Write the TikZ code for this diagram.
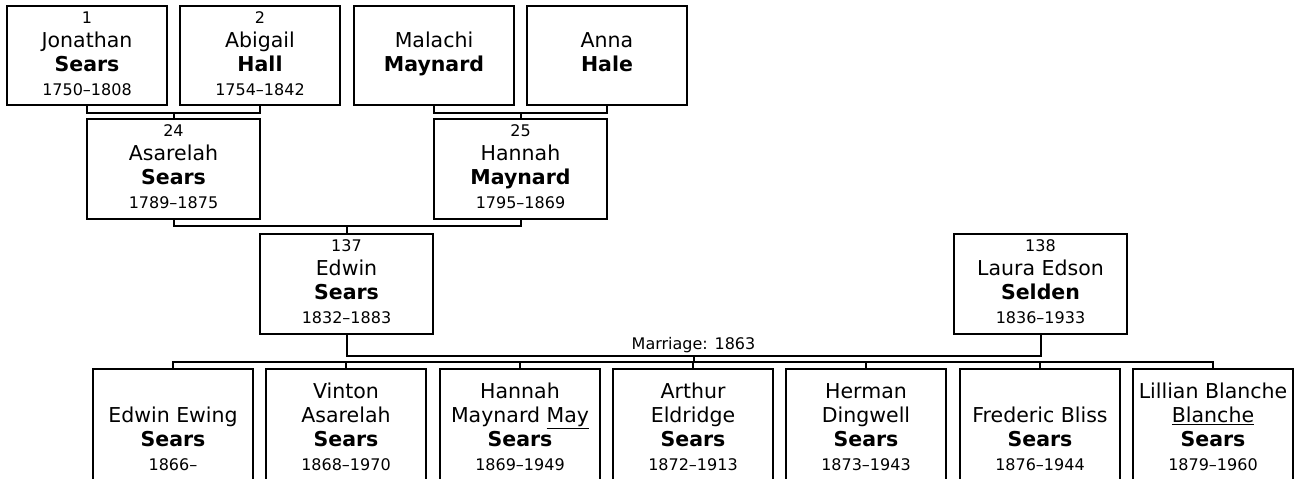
\documentclass[tikz,border=0pt]{standalone}
\usepackage{fontspec}
\setmainfont{DejaVu Sans}
\usepackage{tikz}
\usetikzlibrary{positioning}
\newcommand{\namefont}{\fontsize{20.5}{24}\selectfont}
\newcommand{\smline}[1]{{\fontsize{16}{18}\selectfont\strut #1}}
\tikzset{
  personbox/.style={draw, line width=2pt, minimum width=160pt, minimum height=99pt, inner sep=0pt, align=center, font=\namefont},
  parentbox/.style={personbox, minimum width=173pt, minimum height=100pt},
  kidbox/.style={personbox, minimum height=120pt},
  tieline/.style={line width=2pt, line cap=rect},
  marlabel/.style={font=\fontsize{16}{18}\selectfont, inner sep=1pt}
}

\begin{document}
\begin{tikzpicture}[x=1pt, y=1pt]
  \clip (0,0) rectangle (1294,479);
  \node[personbox] (jon) at (87,423.5) {\smline{1}\\Jonathan\\\textbf{Sears}\\\smline{1750--1808}};
  \node[personbox] (abi) at (260,423.5) {\smline{2}\\Abigail\\\textbf{Hall}\\\smline{1754--1842}};
  \node[personbox] (mal) at (434,423.5) {\smline{}\\Malachi\\\textbf{Maynard}\\\smline{}};
  \node[personbox] (ann) at (607,423.5) {\smline{}\\Anna\\\textbf{Hale}\\\smline{}};
  \node[parentbox] (asa) at (173.5,310) {\smline{24}\\Asarelah\\\textbf{Sears}\\\smline{1789--1875}};
  \node[parentbox] (han) at (520.5,310) {\smline{25}\\Hannah\\\textbf{Maynard}\\\smline{1795--1869}};
  \node[parentbox] (edw) at (346.5,195) {\smline{137}\\Edwin\\\textbf{Sears}\\\smline{1832--1883}};
  \node[parentbox] (lau) at (1040.5,195) {\smline{138}\\Laura Edson\\\textbf{Selden}\\\smline{1836--1933}};
  \node[kidbox] (k1) at (173,50) {\strut\\Edwin Ewing\\\textbf{Sears}\\\smline{1866--}};
  \node[kidbox] (k2) at (346,50) {\strut Vinton\\Asarelah\\\textbf{Sears}\\\smline{1868--1970}};
  \node[kidbox] (k3) at (520,50) {\strut Hannah\\Maynard \underline{May}\\\textbf{Sears}\\\smline{1869--1949}};
  \node[kidbox] (k4) at (693,50) {\strut Arthur\\Eldridge\\\textbf{Sears}\\\smline{1872--1913}};
  \node[kidbox] (k5) at (866,50) {\strut Herman\\Dingwell\\\textbf{Sears}\\\smline{1873--1943}};
  \node[kidbox] (k6) at (1040,50) {\strut\\Frederic Bliss\\\textbf{Sears}\\\smline{1876--1944}};
  \node[kidbox] (k7) at (1213,50) {\strut Lillian Blanche\\\underline{Blanche}\\\textbf{Sears}\\\smline{1879--1960}};
  \draw[tieline] (jon.south) -- ++(0,-7) coordinate (b1) -| (abi.south);
  \draw[tieline] (asa.north) -- (asa.north |- b1);
  \draw[tieline] (mal.south) -- ++(0,-7) coordinate (b2) -| (ann.south);
  \draw[tieline] (han.north) -- (han.north |- b2);
  \draw[tieline] (asa.south) -- ++(0,-6) coordinate (b3) -| (han.south);
  \draw[tieline] (edw.north) -- (edw.north |- b3);
  \draw[tieline] (edw.south) -- ++(0,-21) coordinate (b4) -- (b4 -| lau.south)
    node[midway, above=1pt, marlabel] (mar) {Marriage: 1863} coordinate[midway] (b5) -- (lau.south);
  \draw[tieline] (b5) -- ++(0,-6) coordinate (b6);
  \draw[tieline] (k1.north |- b6) -- (k7.north |- b6);
  \foreach \k in {k1,k2,k3,k4,k5,k6,k7}
    \draw[tieline] (\k.north) -- (\k.north |- b6);
\end{tikzpicture}
\end{document}
